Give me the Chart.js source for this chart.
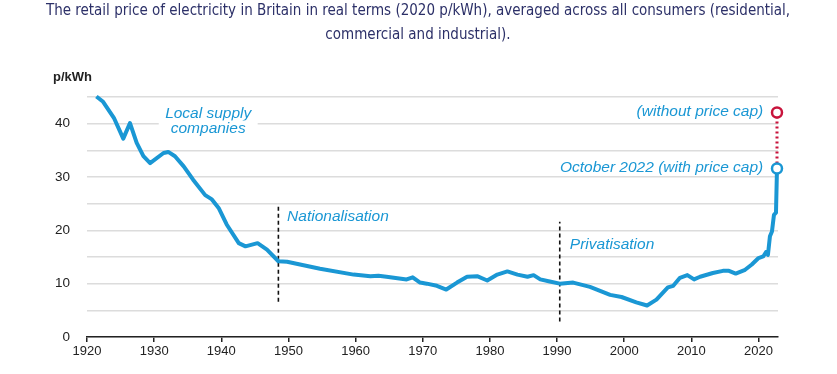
<!DOCTYPE html>
<html>
<head>
<meta charset="utf-8">
<script src="https://cdn.jsdelivr.net/npm/chart.js@4"></script>
<style>
  html, body { margin: 0; padding: 0; background: #fff; }
  #wrap { width: 837px; height: 374px; position: relative; }
</style>
</head>
<body>
<div id="wrap"><canvas id="precioChart"></canvas></div>
<script>
// --- datos ---
const ANIOS = [1921.4, 1922.4, 1924, 1925.4, 1926.4, 1927.4, 1928.4, 1929.4, 1931.4, 1932.1,
  1933.1, 1934.4, 1935.8, 1937.6, 1938.6, 1939.6, 1940.8, 1942.6, 1943.6, 1945.4,
  1946.8, 1948.5, 1949.8, 1954.7, 1959.7, 1962.2, 1963.4, 1964.6, 1967.6, 1968.5,
  1969.6, 1970.6, 1972.1, 1973.5, 1975.1, 1976.6, 1978.1, 1979.6, 1981.1, 1982.6,
  1984.1, 1985.6, 1986.5, 1987.5, 1988.9, 1990.4, 1992.4, 1994.9, 1997.9, 1999.6,
  2001.8, 2003.4, 2004.8, 2006.5, 2007.3, 2008.3, 2009.4, 2010.4, 2011.3, 2013.2,
  2014.7, 2015.6, 2016.6, 2018.0, 2019.0, 2020.0, 2020.7, 2021.1, 2021.4, 2021.7,
  2022.0, 2022.3, 2022.6, 2022.75];
const PRECIOS = [45.1, 44.1, 41.1, 37.2, 40.1, 36.4, 33.9, 32.6, 34.5, 34.7,
  33.9, 32.0, 29.5, 26.6, 25.8, 24.2, 21.1, 17.6, 17.0, 17.6,
  16.4, 14.2, 14.1, 12.8, 11.7, 11.4, 11.5, 11.3, 10.8, 11.2,
  10.2, 10.0, 9.6, 8.9, 10.2, 11.3, 11.4, 10.6, 11.7, 12.3,
  11.7, 11.3, 11.6, 10.8, 10.4, 10.0, 10.2, 9.4, 7.9, 7.5,
  6.5, 5.9, 7.0, 9.3, 9.6, 11.1, 11.6, 10.8, 11.3, 12.0,
  12.4, 12.4, 11.9, 12.6, 13.6, 14.8, 15.1, 15.9, 15.4, 18.9,
  19.8, 22.9, 23.3, 31.6];
const SIN_TOPE_ANIO = 2022.75;
const SIN_TOPE_VALOR = 42.1;           // sin price cap
const HITOS_ANIO = [1948.5, 1990.4];   // nacionalizacion, privatizacion
const HITOS_DESDE = [6.6, 2.9];
const HITOS_HASTA = [24.8, 21.6];
const X_TICKS = [1920, 1930, 1940, 1950, 1960, 1970, 1980, 1990, 2000, 2010, 2020];
const Y_LABELS = [0, 10, 20, 30, 40];

const AZUL = '#1a97d4';
const ROJO = '#c8143c';

const serie = ANIOS.map((a, i) => ({ x: a, y: PRECIOS[i] }));
const radios = serie.map((p, i) => i === serie.length - 1 ? 5 : 0);

// textos anotados (posicion en unidades de datos)
const notas = [
  { t: 'Local supply', x: 1938.05, y: 41.9, align: 'center', fondo: true },
  { t: 'companies', x: 1938.05, y: 39.1, align: 'center', fondo: true },
  { t: 'Nationalisation', x: 1949.8, y: 22.6, align: 'left' },
  { t: 'Privatisation', x: 1991.9, y: 17.3, align: 'left' },
  { t: '(without price cap)', x: 2020.7, y: 42.2, align: 'right' },
  { t: 'October 2022 (with price cap)', x: 2020.7, y: 31.8, align: 'right' }
];

const anotaciones = {
  id: 'anotaciones',
  beforeDatasetsDraw(chart) {
    const { ctx, scales: { x, y } } = chart;
    ctx.save();
    ctx.font = 'italic 15.5px "Liberation Sans", Arial, sans-serif';
    ctx.textBaseline = 'middle';
    notas.forEach(n => {
      const px = x.getPixelForValue(n.x), py = y.getPixelForValue(n.y);
      ctx.textAlign = n.align;
      if (n.fondo) {
        const w = ctx.measureText(n.t).width;
        ctx.fillStyle = '#fff';
        ctx.fillRect(px - w / 2 - 12, py - 8, w + 24, 16);
      }
      ctx.fillStyle = AZUL;
      ctx.fillText(n.t, px, py);
    });
    ctx.restore();
  },
  afterDraw(chart) {
    const { ctx } = chart;
    ctx.save();
    ctx.fillStyle = '#2c3068';
    ctx.textAlign = 'center';
    ctx.textBaseline = 'middle';
    ctx.font = '15px "Liberation Sans Narrow", "DejaVu Sans Condensed", "Liberation Sans", sans-serif';
    ctx.fillText('The retail price of electricity in Britain in real terms (2020 p/kWh), averaged across all consumers (residential,', 418, 11, 826);
    ctx.fillText('commercial and industrial).', 418, 35);
    ctx.fillStyle = '#222';
    ctx.textAlign = 'left';
    ctx.font = 'bold 13px "Liberation Sans", Arial, sans-serif';
    ctx.fillText('p/kWh', 53, 77);
    ctx.restore();
  }
};

const hitos = HITOS_ANIO.map((a, i) => ({
  data: [{ x: a, y: HITOS_DESDE[i] }, { x: a, y: HITOS_HASTA[i] }],
  borderColor: '#111',
  borderWidth: 1.6,
  borderDash: [4, 3],
  pointRadius: 0,
  clip: false,
  order: 5
}));

new Chart(document.getElementById('precioChart'), {
  type: 'line',
  data: {
    datasets: [
      {
        data: serie,
        borderColor: AZUL,
        borderWidth: 4,
        borderJoinStyle: 'round',
        tension: 0,
        pointRadius: radios,
        pointBackgroundColor: '#fff',
        pointBorderColor: AZUL,
        pointBorderWidth: 2.5,
        clip: false,
        order: 1
      },
      {
        data: [{ x: SIN_TOPE_ANIO, y: PRECIOS[PRECIOS.length - 1] }, { x: SIN_TOPE_ANIO, y: SIN_TOPE_VALOR }],
        borderColor: ROJO,
        borderWidth: 3,
        borderDash: [2, 3],
        pointRadius: [0, 5],
        pointBackgroundColor: '#fff',
        pointBorderColor: ROJO,
        pointBorderWidth: 2.5,
        clip: false,
        order: 2
      },
      ...hitos
    ]
  },
  options: {
    responsive: true,
    maintainAspectRatio: false,
    animation: false,
    layout: { padding: { top: 97, right: 59, left: 0, bottom: 0 } },
    plugins: { legend: { display: false }, tooltip: { enabled: false } },
    scales: {
      x: {
        type: 'linear',
        min: 1920,
        max: 2022.9,
        afterBuildTicks: s => { s.ticks = X_TICKS.map(v => ({ value: v })); },
        afterFit: s => { s.height = 37; },
        border: { display: true, color: '#222', width: 1.5 },
        grid: { drawOnChartArea: false, color: '#222', tickLength: 5, lineWidth: 1.5 },
        ticks: { color: '#222', padding: 2, font: { size: 13, family: '"Liberation Sans", Arial, sans-serif' }, callback: v => String(v) }
      },
      y: {
        min: 0,
        max: 45,
        afterFit: s => { s.width = 87; },
        border: { display: false },
        grid: { color: '#dcdcdc', lineWidth: 1.5, drawTicks: false },
        ticks: {
          stepSize: 5,
          padding: 17,
          color: '#222',
          font: { size: 13.5, family: '"Liberation Sans", Arial, sans-serif' },
          callback: v => Y_LABELS.includes(v) ? String(v) : ''
        }
      }
    }
  },
  plugins: [anotaciones]
});
</script>
</body>
</html>
